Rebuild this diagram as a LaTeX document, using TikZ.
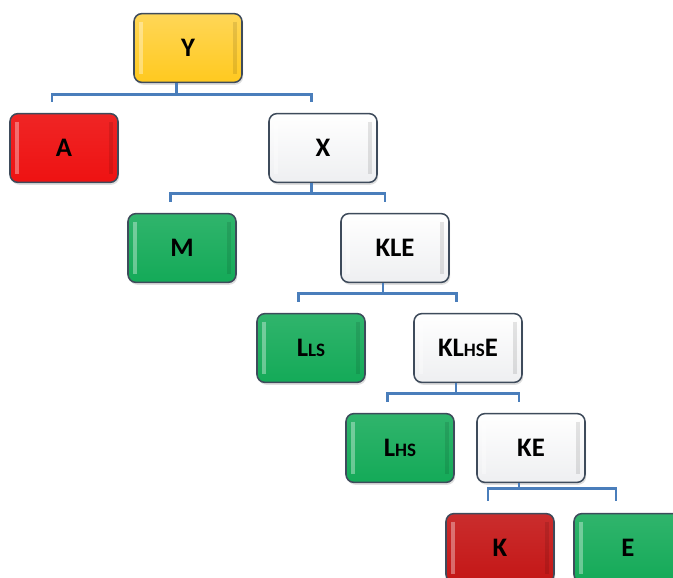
\documentclass[tikz,border=0pt]{standalone}
\usepackage{fontspec}
\setmainfont{Carlito}
\usetikzlibrary{shadows}

\definecolor{boxline}{HTML}{3E4B5B}
\definecolor{linkblue}{HTML}{4A7EBB}
\definecolor{gold}{HTML}{FFC91F}
\definecolor{redA}{HTML}{EE1212}
\definecolor{redK}{HTML}{C41616}
\definecolor{greenL}{HTML}{14AA58}
\definecolor{whiteB}{HTML}{EEEFF1}

\newcommand{\lo}[1]{{\fontsize{13.5}{15}\selectfont #1}}

\begin{document}
\begin{tikzpicture}[x=0.025cm, y=-0.025cm, font=\fontsize{19}{22}\selectfont\bfseries,
  box/.style={draw=boxline, line width=1.1pt, rounded corners=0.2cm,
    minimum width=2.7cm, minimum height=1.72cm, inner sep=0pt,
    drop shadow={opacity=.25, shadow xshift=0.03cm, shadow yshift=-0.06cm},
    path picture={
      \draw[white, opacity=.35, line width=2.5pt]
        ([xshift=0.17cm,yshift=-0.2cm]path picture bounding box.north west) --
        ([xshift=0.17cm,yshift=0.2cm]path picture bounding box.south west);
      \draw[black, opacity=.10, line width=2.5pt]
        ([xshift=-0.17cm,yshift=-0.2cm]path picture bounding box.north east) --
        ([xshift=-0.17cm,yshift=0.2cm]path picture bounding box.south east);}},
  yellowbox/.style={box, top color=gold!75!white, bottom color=gold},
  redbox/.style={box, top color=redA!92!white, bottom color=redA},
  darkredbox/.style={box, top color=redK!90!white, bottom color=redK},
  greenbox/.style={box, top color=greenL!88!white, bottom color=greenL},
  whitebox/.style={box, top color=white, bottom color=whiteB},
  link/.style={draw=linkblue, line width=2pt}]

\clip (0,0) rectangle (673,578);

\node[yellowbox] (Y) at (188,48) {Y};
\node[redbox] (A) at (64,148) {A};
\node[whitebox] (X) at (323,148) {X};
\node[greenbox] (M) at (182,248) {M};
\node[whitebox] (KLE) at (395,248) {KLE};
\node[greenbox] (LLS) at (311,348) {L\lo{LS}};
\node[whitebox] (KLHSE) at (468,348) {KL\lo{HS}E};
\node[greenbox] (LHS) at (400,448) {L\lo{HS}};
\node[whitebox] (KE) at (531,448) {KE};
\node[darkredbox] (K) at (500,548) {K};
\node[greenbox] (E) at (628,548) {E};

\draw[link] ([xshift=-0.28cm]Y.south) -- ++(0,11) -| ([xshift=-0.3cm,yshift=0.27cm]A.north);
\draw[link] ([xshift=-0.28cm]Y.south) -- ++(0,11) -| ([xshift=-0.28cm,yshift=0.27cm]X.north);
\draw[link] ([xshift=-0.28cm]X.south) -- ++(0,10) -| ([xshift=-0.28cm,yshift=0.27cm]M.north);
\draw[link] ([xshift=-0.28cm]X.south) -- ++(0,10) -| ([xshift=-0.25cm,yshift=0.27cm]KLE.north);
\draw[link] ([xshift=-0.3cm]KLE.south) -- ++(0,10) -| ([xshift=-0.32cm,yshift=0.27cm]LLS.north);
\draw[link] ([xshift=-0.3cm]KLE.south) -- ++(0,10) -| ([xshift=-0.28cm,yshift=0.27cm]KLHSE.north);
\draw[link] ([xshift=-0.3cm]KLHSE.south) -- ++(0,10) -| ([xshift=-0.32cm,yshift=0.27cm]LHS.north);
\draw[link] ([xshift=-0.3cm]KLHSE.south) -- ++(0,10) -| ([xshift=-0.3cm,yshift=0.27cm]KE.north);
\draw[link] ([xshift=-0.3cm]KE.south) -- ++(0,5) -| ([xshift=-0.3cm,yshift=0.3cm]K.north);
\draw[link] ([xshift=-0.3cm]KE.south) -- ++(0,5) -| ([xshift=-0.3cm,yshift=0.3cm]E.north);

\end{tikzpicture}
\end{document}
